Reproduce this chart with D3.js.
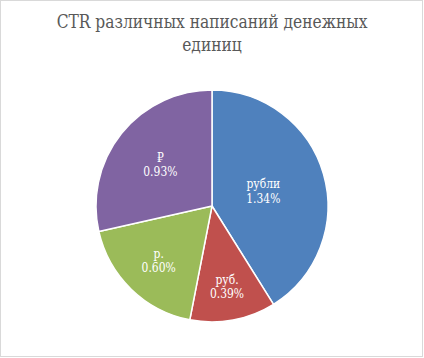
<!DOCTYPE html>
<html><head><meta charset="utf-8">
<script src="https://cdn.jsdelivr.net/npm/d3@7"></script>
<style>html,body{margin:0;padding:0;background:#fff;}svg{display:block;}</style>
</head><body>
<svg id="c" width="424" height="358"></svg>
<script>
const categories = ["рубли", "руб.", "р.", "₽"];
const values = [1.34, 0.39, 0.60, 0.93];
const valueLabels = ["1.34%", "0.39%", "0.60%", "0.93%"];
const titleLines = ["CTR различных написаний денежных", "единиц"];
const colors = ["#4F81BD", "#C0504D", "#9BBB59", "#8064A2"];

const svg = d3.select("#c");
const W = 424, H = 358;
svg.append("rect").attr("x", 0.5).attr("y", 0.5).attr("width", W - 2).attr("height", H - 2)
  .attr("fill", "#fff").attr("stroke", "#D9D9D9").attr("stroke-width", 1);

const serif = "'DejaVu Serif', serif";
const squeeze = 0.86; // narrow the wide DejaVu Serif toward the reference face
function condense(sel) {
  sel.each(function () {
    const w = this.getComputedTextLength();
    d3.select(this).attr("textLength", w * squeeze).attr("lengthAdjust", "spacingAndGlyphs");
  });
}

const titleSel = svg.selectAll("text.title").data(titleLines).join("text").attr("class", "title")
  .attr("text-anchor", "middle").style("font-family", serif).attr("font-size", 18)
  .attr("fill", "#595959").attr("x", 212).attr("y", (d, i) => 28 + i * 23).text(d => d);
condense(titleSel);

const cx = 212, cy = 206, r = 116;
const pie = d3.pie().sort(null).value(d => d);
const arcs = pie(values);
const arc = d3.arc().innerRadius(0).outerRadius(r);
const g = svg.append("g").attr("transform", `translate(${cx},${cy})`);
g.selectAll("path").data(arcs).join("path")
  .attr("d", arc).attr("fill", (d, i) => colors[i])
  .attr("stroke", "#fff").attr("stroke-width", 1.5).attr("stroke-linejoin", "round");

const labelFactor = [0.46, 0.71, 0.66, 0.57];
const lab = g.selectAll("g.lab").data(arcs).join("g").attr("class", "lab")
  .attr("transform", (d, i) => {
    const a = (d.startAngle + d.endAngle) / 2;
    const rr = r * labelFactor[i];
    return `translate(${Math.sin(a) * rr},${-Math.cos(a) * rr})`;
  });
const t1 = lab.append("text").attr("text-anchor", "middle").style("font-family", serif)
  .attr("font-size", 12.5).attr("fill", "#fff").attr("y", -3).text((d, i) => categories[i]);
const t2 = lab.append("text").attr("text-anchor", "middle").style("font-family", serif)
  .attr("font-size", 12.5).attr("fill", "#fff").attr("y", 11.5).text((d, i) => valueLabels[i]);
condense(t1); condense(t2);
</script>
</body></html>
